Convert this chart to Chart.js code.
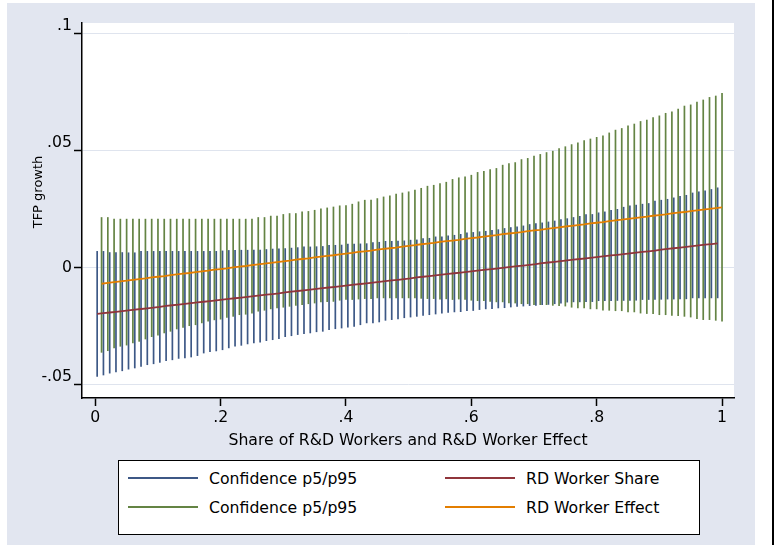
<!DOCTYPE html>
<html>
<head>
<meta charset="utf-8">
<script src="https://cdn.jsdelivr.net/npm/chart.js@4.4.1/dist/chart.umd.min.js"></script>
<style>
  html, body { margin: 0; padding: 0; background: #fff; }
  #wrap { position: relative; width: 775px; height: 545px; }
  #legend {
    position: absolute; left: 118px; top: 460px; width: 580px; height: 73px;
    border: 1px solid #000; background: #fff;
    font-family: "DejaVu Sans", sans-serif; font-size: 15.7px; color: #000;
  }
  .item { position: absolute; height: 20px; display: flex; align-items: center; white-space: nowrap; }
  .swatch { display: inline-block; width: 70px; height: 2px; margin-right: 11px; }
</style>
</head>
<body>
<div id="wrap">
  <canvas id="chart" width="775" height="545"></canvas>
  <div id="legend"></div>
</div>
<script>
// share of R&D workers (x)
const xShare = [
  0.01, 0.02, 0.03, 0.04, 0.05, 0.06, 0.07, 0.08, 0.09, 0.10,
  0.11, 0.12, 0.13, 0.14, 0.15, 0.16, 0.17, 0.18, 0.19, 0.20,
  0.21, 0.22, 0.23, 0.24, 0.25, 0.26, 0.27, 0.28, 0.29, 0.30,
  0.31, 0.32, 0.33, 0.34, 0.35, 0.36, 0.37, 0.38, 0.39, 0.40,
  0.41, 0.42, 0.43, 0.44, 0.45, 0.46, 0.47, 0.48, 0.49, 0.50,
  0.51, 0.52, 0.53, 0.54, 0.55, 0.56, 0.57, 0.58, 0.59, 0.60,
  0.61, 0.62, 0.63, 0.64, 0.65, 0.66, 0.67, 0.68, 0.69, 0.70,
  0.71, 0.72, 0.73, 0.74, 0.75, 0.76, 0.77, 0.78, 0.79, 0.80,
  0.81, 0.82, 0.83, 0.84, 0.85, 0.86, 0.87, 0.88, 0.89, 0.90,
  0.91, 0.92, 0.93, 0.94, 0.95, 0.96, 0.97, 0.98, 0.99, 1.00
];
// the share series is drawn a little to the left of the effect series
const shareShift = 0.007;

// RD Worker Share and its p5/p95 band
const shareLine = [
  -0.0198, -0.0195, -0.0192, -0.0189, -0.0186, -0.0183, -0.0180, -0.0177, -0.0174, -0.0171,
  -0.0168, -0.0164, -0.0161, -0.0158, -0.0155, -0.0152, -0.0149, -0.0146, -0.0143, -0.0140,
  -0.0137, -0.0134, -0.0131, -0.0128, -0.0125, -0.0122, -0.0119, -0.0116, -0.0113, -0.0110,
  -0.0106, -0.0103, -0.0100, -0.0097, -0.0094, -0.0091, -0.0088, -0.0085, -0.0082, -0.0079,
  -0.0076, -0.0073, -0.0070, -0.0067, -0.0064, -0.0061, -0.0058, -0.0055, -0.0052, -0.0049,
  -0.0046, -0.0042, -0.0039, -0.0036, -0.0033, -0.0030, -0.0027, -0.0024, -0.0021, -0.0018,
  -0.0015, -0.0012, -0.0009, -0.0006, -0.0003, 0.0000, 0.0003, 0.0006, 0.0009, 0.0012,
  0.0015, 0.0019, 0.0022, 0.0025, 0.0028, 0.0031, 0.0034, 0.0037, 0.0040, 0.0043,
  0.0046, 0.0049, 0.0052, 0.0055, 0.0058, 0.0061, 0.0064, 0.0067, 0.0070, 0.0073,
  0.0077, 0.0080, 0.0083, 0.0086, 0.0089, 0.0092, 0.0095, 0.0098, 0.0101, 0.0104
];
const shareHi = [
  0.0071, 0.0071, 0.0066, 0.0066, 0.0066, 0.0065, 0.0065, 0.0071, 0.0071, 0.0071,
  0.0071, 0.0071, 0.0071, 0.0071, 0.0071, 0.0071, 0.0071, 0.0071, 0.0071, 0.0071,
  0.0073, 0.0075, 0.0075, 0.0076, 0.0076, 0.0077, 0.0077, 0.0079, 0.0081, 0.0082,
  0.0083, 0.0085, 0.0087, 0.0090, 0.0090, 0.0091, 0.0092, 0.0097, 0.0097, 0.0098,
  0.0102, 0.0102, 0.0103, 0.0104, 0.0109, 0.0110, 0.0114, 0.0114, 0.0115, 0.0116,
  0.0119, 0.0120, 0.0126, 0.0127, 0.0133, 0.0133, 0.0137, 0.0140, 0.0144, 0.0150,
  0.0152, 0.0155, 0.0157, 0.0161, 0.0164, 0.0169, 0.0173, 0.0176, 0.0180, 0.0186,
  0.0190, 0.0193, 0.0197, 0.0201, 0.0207, 0.0211, 0.0216, 0.0221, 0.0228, 0.0229,
  0.0236, 0.0240, 0.0247, 0.0251, 0.0260, 0.0266, 0.0269, 0.0273, 0.0276, 0.0286,
  0.0290, 0.0294, 0.0300, 0.0307, 0.0311, 0.0321, 0.0326, 0.0330, 0.0336, 0.0343
];
const shareLo = [
  -0.0467, -0.0461, -0.0453, -0.0448, -0.0443, -0.0436, -0.0431, -0.0424, -0.0417, -0.0413,
  -0.0407, -0.0400, -0.0396, -0.0390, -0.0388, -0.0384, -0.0378, -0.0367, -0.0361, -0.0358,
  -0.0353, -0.0345, -0.0338, -0.0334, -0.0328, -0.0324, -0.0320, -0.0314, -0.0310, -0.0305,
  -0.0297, -0.0293, -0.0288, -0.0284, -0.0281, -0.0276, -0.0274, -0.0267, -0.0263, -0.0260,
  -0.0256, -0.0253, -0.0246, -0.0238, -0.0238, -0.0234, -0.0227, -0.0224, -0.0221, -0.0216,
  -0.0213, -0.0210, -0.0206, -0.0203, -0.0200, -0.0196, -0.0193, -0.0191, -0.0190, -0.0186,
  -0.0185, -0.0181, -0.0178, -0.0177, -0.0174, -0.0173, -0.0170, -0.0167, -0.0166, -0.0164,
  -0.0163, -0.0160, -0.0159, -0.0156, -0.0154, -0.0149, -0.0148, -0.0148, -0.0147, -0.0147,
  -0.0143, -0.0143, -0.0143, -0.0142, -0.0142, -0.0142, -0.0141, -0.0138, -0.0138, -0.0138,
  -0.0137, -0.0136, -0.0136, -0.0135, -0.0135, -0.0131, -0.0131, -0.0131, -0.0131, -0.0131
];

// RD Worker Effect and its p5/p95 band
const effectLine = [
  -0.0069, -0.0065, -0.0062, -0.0059, -0.0056, -0.0052, -0.0049, -0.0046, -0.0042, -0.0039,
  -0.0036, -0.0032, -0.0029, -0.0026, -0.0023, -0.0019, -0.0016, -0.0013, -0.0009, -0.0006,
  -0.0003, 0.0001, 0.0004, 0.0007, 0.0011, 0.0014, 0.0017, 0.0020, 0.0024, 0.0027,
  0.0030, 0.0034, 0.0037, 0.0040, 0.0044, 0.0047, 0.0050, 0.0053, 0.0057, 0.0060,
  0.0063, 0.0067, 0.0070, 0.0073, 0.0077, 0.0080, 0.0083, 0.0086, 0.0090, 0.0093,
  0.0096, 0.0100, 0.0103, 0.0106, 0.0110, 0.0113, 0.0116, 0.0119, 0.0123, 0.0126,
  0.0129, 0.0133, 0.0136, 0.0139, 0.0143, 0.0146, 0.0149, 0.0152, 0.0156, 0.0159,
  0.0162, 0.0166, 0.0169, 0.0172, 0.0176, 0.0179, 0.0182, 0.0185, 0.0189, 0.0192,
  0.0195, 0.0199, 0.0202, 0.0205, 0.0209, 0.0212, 0.0215, 0.0218, 0.0222, 0.0225,
  0.0228, 0.0232, 0.0235, 0.0238, 0.0242, 0.0245, 0.0248, 0.0251, 0.0255, 0.0258
];
const effectHi = [
  0.0216, 0.0216, 0.0209, 0.0209, 0.0209, 0.0209, 0.0209, 0.0209, 0.0209, 0.0209,
  0.0209, 0.0209, 0.0209, 0.0209, 0.0209, 0.0209, 0.0209, 0.0209, 0.0209, 0.0209,
  0.0209, 0.0209, 0.0209, 0.0209, 0.0209, 0.0216, 0.0216, 0.0222, 0.0222, 0.0229,
  0.0233, 0.0233, 0.0240, 0.0242, 0.0247, 0.0253, 0.0257, 0.0261, 0.0266, 0.0267,
  0.0273, 0.0283, 0.0290, 0.0291, 0.0297, 0.0304, 0.0309, 0.0316, 0.0321, 0.0326,
  0.0333, 0.0341, 0.0350, 0.0354, 0.0361, 0.0367, 0.0379, 0.0386, 0.0390, 0.0397,
  0.0409, 0.0414, 0.0421, 0.0426, 0.0440, 0.0447, 0.0451, 0.0464, 0.0469, 0.0479,
  0.0486, 0.0494, 0.0500, 0.0511, 0.0519, 0.0528, 0.0536, 0.0545, 0.0552, 0.0559,
  0.0566, 0.0578, 0.0590, 0.0597, 0.0608, 0.0616, 0.0627, 0.0633, 0.0644, 0.0651,
  0.0662, 0.0668, 0.0680, 0.0693, 0.0698, 0.0710, 0.0719, 0.0730, 0.0736, 0.0747
];
const effectLo = [
  -0.0364, -0.0357, -0.0345, -0.0338, -0.0333, -0.0324, -0.0317, -0.0307, -0.0297, -0.0291,
  -0.0281, -0.0274, -0.0264, -0.0257, -0.0250, -0.0246, -0.0238, -0.0231, -0.0225, -0.0222,
  -0.0215, -0.0210, -0.0203, -0.0201, -0.0196, -0.0188, -0.0184, -0.0178, -0.0174, -0.0171,
  -0.0167, -0.0163, -0.0160, -0.0156, -0.0153, -0.0148, -0.0147, -0.0146, -0.0141, -0.0138,
  -0.0138, -0.0136, -0.0134, -0.0134, -0.0131, -0.0131, -0.0131, -0.0131, -0.0131, -0.0131,
  -0.0131, -0.0133, -0.0134, -0.0134, -0.0136, -0.0135, -0.0138, -0.0136, -0.0138, -0.0141,
  -0.0143, -0.0143, -0.0146, -0.0148, -0.0148, -0.0153, -0.0153, -0.0156, -0.0156, -0.0160,
  -0.0160, -0.0160, -0.0163, -0.0164, -0.0166, -0.0171, -0.0174, -0.0174, -0.0178, -0.0178,
  -0.0184, -0.0184, -0.0186, -0.0186, -0.0191, -0.0191, -0.0196, -0.0198, -0.0198, -0.0203,
  -0.0203, -0.0206, -0.0207, -0.0210, -0.0213, -0.0220, -0.0224, -0.0224, -0.0227, -0.0231
];

const xTicks = [0, 0.2, 0.4, 0.6, 0.8, 1];
const xTickLabels = ["0", ".2", ".4", ".6", ".8", "1"];
const yTicks = [-0.05, 0, 0.05, 0.1];
const yTickLabels = ["-.05", "0", ".05", ".1"];

const xTitle = "Share of R&D Workers and R&D Worker Effect";
const yTitle = "TFP growth";

Chart.defaults.font.family = '"DejaVu Sans", sans-serif';
Chart.defaults.font.size = 15.7;
Chart.defaults.color = "#000";

// Stata-like backdrop: bluish graph region, white plot region
const backdrop = {
  id: "backdrop",
  beforeDraw(chart) {
    const { ctx, chartArea: a } = chart;
    ctx.save();
    ctx.fillStyle = "#fff";
    ctx.fillRect(0, 0, chart.width, chart.height);
    ctx.fillStyle = "#e2e6f0";
    ctx.fillRect(7, 3, 748, chart.height - 3);
    ctx.fillStyle = "#fff";
    ctx.fillRect(a.left, a.top, a.right - a.left, a.bottom - a.top);
    ctx.fillStyle = "#000";
    ctx.fillRect(772, 0, 2, chart.height);
    ctx.restore();
  },
  afterDraw(chart) {
    const ctx = chart.ctx;
    ctx.save();
    ctx.translate(39, 192);
    ctx.rotate(-Math.PI / 2);
    ctx.font = '13px "DejaVu Sans", sans-serif';
    ctx.fillStyle = "#000";
    ctx.textAlign = "center";
    ctx.textBaseline = "middle";
    ctx.fillText(yTitle, 0, 0);
    ctx.restore();
  },
};

const datasets = [
  {
    type: "bar",
    label: "Confidence p5/p95",
    data: xShare.map((x, i) => ({ x: x - shareShift, y: [shareLo[i], shareHi[i]] })),
    backgroundColor: "#3d5886",
    barThickness: 1.7,
    inflateAmount: 0,
    grouped: false,
    order: 2,
  },
  {
    type: "line",
    label: "RD Worker Share",
    data: xShare.map((x, i) => ({ x: x - shareShift, y: shareLine[i] })),
    borderColor: "#90353b",
    borderWidth: 1.8,
    pointRadius: 0,
    order: 0,
  },
  {
    type: "bar",
    label: "Confidence p5/p95",
    data: xShare.map((x, i) => ({ x: x, y: [effectLo[i], effectHi[i]] })),
    backgroundColor: "#648444",
    barThickness: 1.7,
    inflateAmount: 0,
    grouped: false,
    order: 1,
  },
  {
    type: "line",
    label: "RD Worker Effect",
    data: xShare.map((x, i) => ({ x: x, y: effectLine[i] })),
    borderColor: "#e37e00",
    borderWidth: 1.8,
    pointRadius: 0,
    order: 0,
  },
];

const chart = new Chart(document.getElementById("chart"), {
  type: "bar",
  data: { datasets },
  options: {
    responsive: false,
    animation: false,
    layout: { padding: { left: 0, top: 23, right: 41, bottom: 95 } },
    plugins: { legend: { display: false }, tooltip: { enabled: false } },
    scales: {
      x: {
        type: "linear",
        min: -0.0212,
        max: 1.0191,
        offset: false,
        afterBuildTicks: (s) => { s.ticks = xTicks.map((v) => ({ value: v })); },
        afterFit: (s) => { s.height = 52; },
        ticks: {
          autoSkip: false,
          maxRotation: 0,
          padding: 3,
          callback: (v, i) => xTickLabels[i],
        },
        grid: { offset: false, drawOnChartArea: false, tickLength: 8, tickColor: "#000", tickWidth: 1.5 },
        border: { color: "#000", width: 1.5 },
        title: { display: true, text: xTitle, padding: { top: 0, bottom: 0 } },
      },
      y: {
        type: "linear",
        min: -0.0558,
        max: 0.1047,
        afterBuildTicks: (s) => { s.ticks = yTicks.map((v) => ({ value: v })); },
        afterFit: (s) => { s.width = 82; },
        ticks: {
          padding: 2,
          font: { lineHeight: 1 },
          // labels other than 0 sit a bit above their tick, as in the original
          callback: (v, i) => (yTicks[i] === 0 ? yTickLabels[i] : [yTickLabels[i], ""]),
        },
        grid: { color: "#dfe4ee", lineWidth: 1, tickLength: 8, tickColor: "#000", tickWidth: 1.5 },
        border: { color: "#000", width: 1.5 },
      },
    },
  },
  plugins: [backdrop],
});

// legend: two columns, same order as the datasets
const legend = document.getElementById("legend");
const colLeft = [9, 326];
const rowTop = [7, 36];
chart.data.datasets.forEach((ds, i) => {
  const item = document.createElement("div");
  item.className = "item";
  item.style.left = colLeft[i % 2] + "px";
  item.style.top = rowTop[Math.floor(i / 2)] + "px";
  const color = ds.type === "bar" ? ds.backgroundColor : ds.borderColor;
  item.innerHTML = `<span class="swatch" style="background:${color}"></span><span>${ds.label}</span>`;
  legend.appendChild(item);
});
</script>
</body>
</html>
